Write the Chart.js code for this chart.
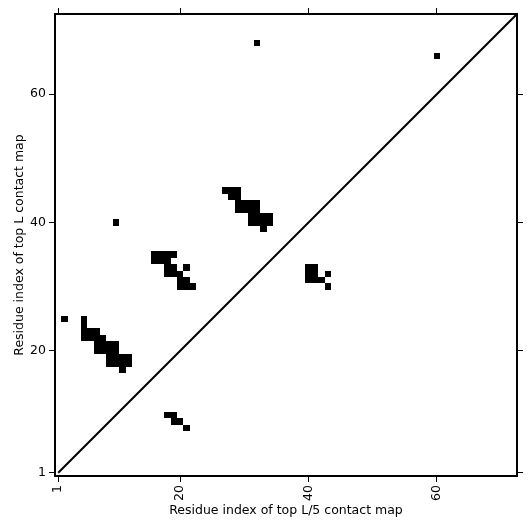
<!DOCTYPE html>
<html>
<head>
<meta charset="utf-8">
<script src="https://cdn.jsdelivr.net/npm/chart.js@4.4.1/dist/chart.umd.min.js"></script>
<style>
  html, body { margin: 0; padding: 0; background: #fff; }
  #wrap { width: 531px; height: 531px; }
</style>
</head>
<body>
<div id="wrap"><canvas id="contactChart" width="531" height="531"></canvas></div>
<script>
// axis setup
const residueMin = 0.5;
const residueMax = 72.5;
const tickValues = [1, 20, 40, 60];
const xTitle = 'Residue index of top L/5 contact map';
const yTitle = 'Residue index of top L contact map';
const diagonalEnds = [1, 72.5];

// contacts as [x residue, y residue]
const isolatedContacts = [[2, 25], [10, 40], [32, 68], [60, 66]];
const hairpinContacts = [
    [5, 25], [5, 24],
    [5, 23], [6, 23], [7, 23],
    [5, 22], [6, 22], [7, 22], [8, 22],
    [7, 21], [8, 21], [9, 21], [10, 21],
    [7, 20], [8, 20], [9, 20], [10, 20],
    [9, 19], [10, 19], [11, 19], [12, 19],
    [9, 18], [10, 18], [11, 18], [12, 18],
    [11, 17]
];
const middleContacts = [
    [16, 35], [17, 35], [18, 35], [19, 35],
    [16, 34], [17, 34], [18, 34],
    [18, 33], [19, 33], [21, 33],
    [18, 32], [19, 32], [20, 32],
    [20, 31], [21, 31],
    [20, 30], [21, 30], [22, 30]
];
const upperContacts = [
    [27, 45], [28, 45], [29, 45],
    [28, 44], [29, 44],
    [29, 43], [30, 43], [31, 43], [32, 43],
    [29, 42], [30, 42], [31, 42], [32, 42],
    [31, 41], [32, 41], [33, 41], [34, 41],
    [31, 40], [32, 40], [33, 40], [34, 40],
    [33, 39]
];
const sideContacts = [
    [40, 33], [41, 33],
    [40, 32], [41, 32], [43, 32],
    [40, 31], [41, 31], [42, 31],
    [43, 30]
];
const lowerContacts = [
    [18, 10], [19, 10],
    [19, 9], [20, 9],
    [21, 8]
];

const allContacts = [].concat(isolatedContacts, hairpinContacts, middleContacts,
    upperContacts, sideContacts, lowerContacts);

const tickFont = { family: 'DejaVu Sans', size: 12.5 };

// draw each contact as a unit square through the chart scales
const cellPlugin = {
    id: 'contactCells',
    beforeDatasetsDraw(chart) {
        const { ctx, scales: { x, y } } = chart;
        ctx.save();
        ctx.fillStyle = '#000';
        allContacts.forEach(([cx, cy]) => {
            const left = Math.round(x.getPixelForValue(cx - 0.5));
            const right = Math.round(x.getPixelForValue(cx + 0.5));
            const top = Math.round(y.getPixelForValue(cy + 0.5));
            const bottom = Math.round(y.getPixelForValue(cy - 0.5));
            ctx.fillRect(left, top, right - left, bottom - top);
        });
        ctx.restore();
    }
};

function fixedTicks(scale) {
    scale.ticks = tickValues.map(v => ({ value: v }));
}

function sideAxis(position, size) {
    const horizontal = position === 'top' || position === 'bottom';
    return {
        type: 'linear',
        position: position,
        min: residueMin,
        max: residueMax,
        afterBuildTicks: fixedTicks,
        afterFit: s => { if (horizontal) s.height = size; else s.width = size; },
        ticks: { display: false },
        grid: { drawOnChartArea: false, tickLength: 6, color: '#000', tickWidth: 1 },
        border: { display: true, color: '#000', width: 2 }
    };
}

function initChart() {
    const ctx = document.getElementById('contactChart').getContext('2d');
    new Chart(ctx, {
        type: 'scatter',
        data: {
            datasets: [{
                data: diagonalEnds.map(v => ({ x: v, y: v })),
                showLine: true,
                borderColor: '#000',
                borderWidth: 2,
                pointRadius: 0
            }]
        },
        options: {
            responsive: false,
            animation: false,
            events: [],
            layout: { padding: 0 },
            plugins: {
                legend: { display: false },
                tooltip: { enabled: false }
            },
            scales: {
                x: {
                    type: 'linear',
                    position: 'bottom',
                    min: residueMin,
                    max: residueMax,
                    afterBuildTicks: fixedTicks,
                    afterFit: s => { s.height = 55; },
                    ticks: {
                        color: '#000',
                        font: tickFont,
                        autoSkip: false,
                        minRotation: 90,
                        maxRotation: 90,
                        padding: 3
                    },
                    grid: { drawOnChartArea: false, tickLength: 6, color: '#000', tickWidth: 1 },
                    border: { display: true, color: '#000', width: 2 },
                    title: {
                        display: true,
                        text: xTitle,
                        color: '#000',
                        font: tickFont,
                        padding: { top: 0, bottom: 13 }
                    }
                },
                y: {
                    type: 'linear',
                    position: 'left',
                    min: residueMin,
                    max: residueMax,
                    afterBuildTicks: fixedTicks,
                    afterFit: s => { s.width = 55; },
                    ticks: { color: '#000', font: tickFont, padding: 3 },
                    grid: { drawOnChartArea: false, tickLength: 6, color: '#000', tickWidth: 1 },
                    border: { display: true, color: '#000', width: 2 },
                    title: {
                        display: true,
                        text: yTitle,
                        color: '#000',
                        font: tickFont,
                        padding: { top: 12, bottom: 0 }
                    }
                },
                x2: sideAxis('top', 14),
                y2: sideAxis('right', 14)
            }
        },
        plugins: [cellPlugin]
    });
}

window.onload = initChart;
</script>
</body>
</html>
